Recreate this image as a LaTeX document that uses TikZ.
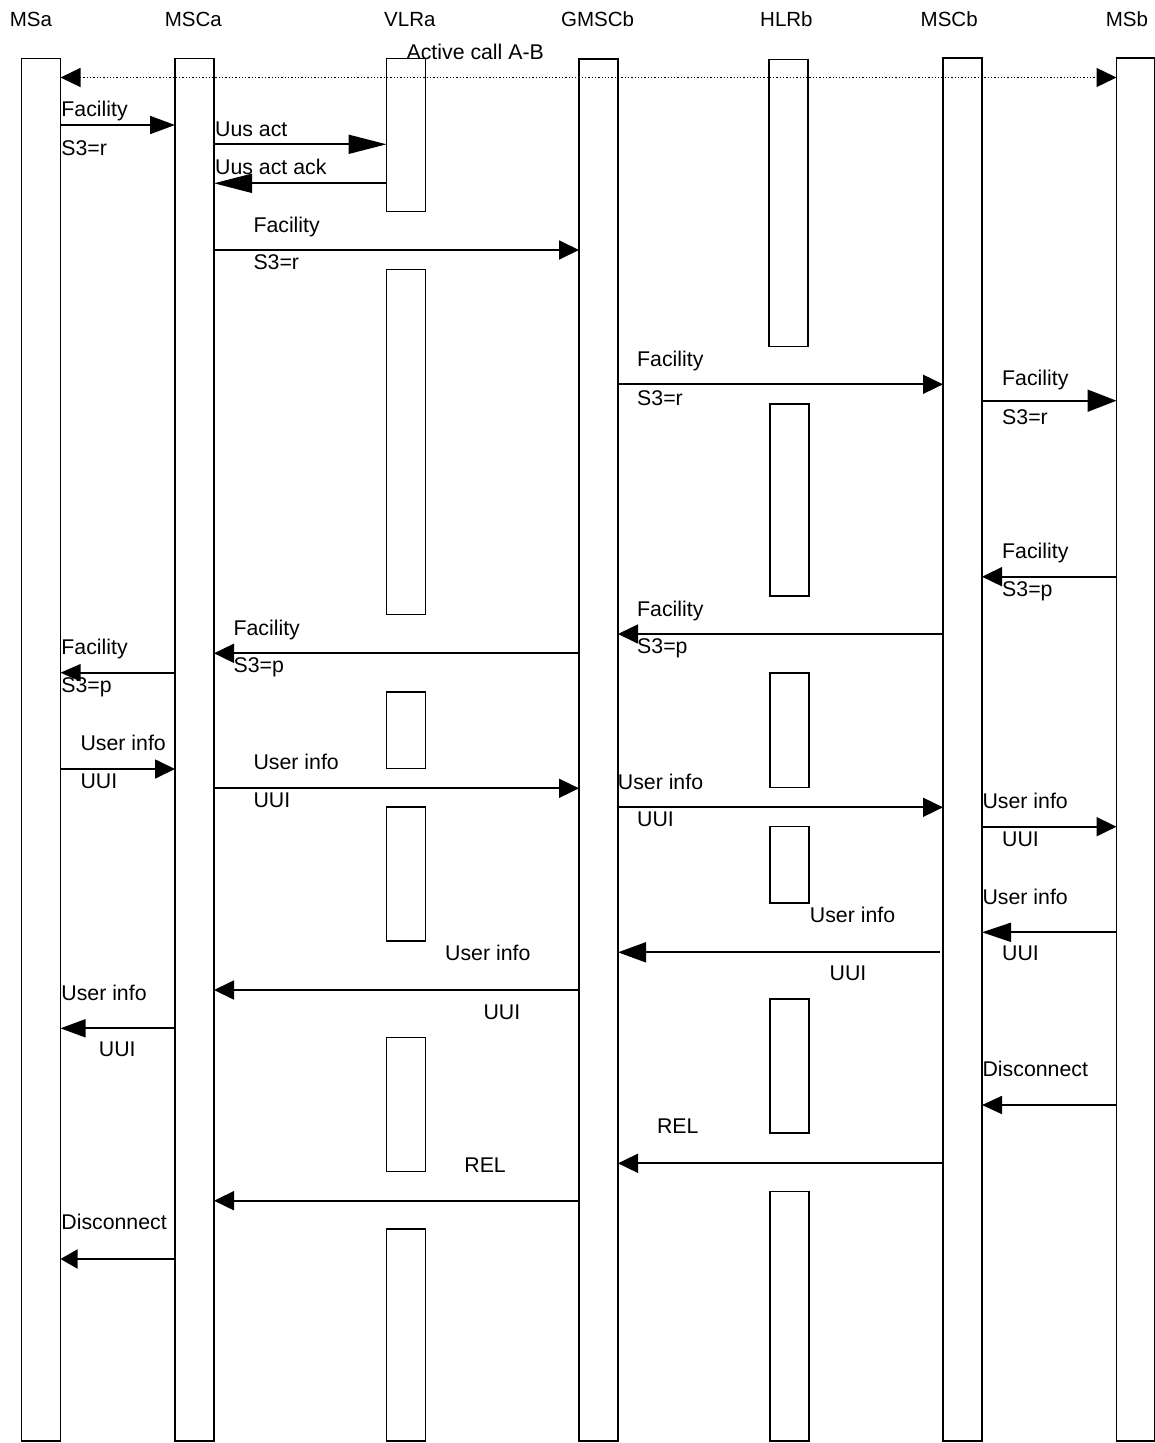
\documentclass[tikz,border=0pt]{standalone}
\usepackage{fontspec}
\setmainfont{Liberation Sans}
\usetikzlibrary{arrows.meta}
\begin{document}
\begin{tikzpicture}[x=1pt,y=-1pt,
  font=\fontsize{21.3}{25}\selectfont,
  lifebox/.style={draw, line width=1.8pt, minimum width=39pt, inner sep=0pt, outer sep=0pt},
  msg/.style={line width=1.8pt, -{Triangle[length=20pt,width=19pt]}},
  lbl/.style={anchor=base west, inner sep=0pt},
  hdr/.style={anchor=base west, inner sep=0pt, font=\fontsize{20.5}{24}\selectfont}]
\useasboundingbox (0,0) rectangle (1155,1443);
% headers
\node[hdr] (hMSa) at (9.6,26) {MSa};
\node[hdr] (hMSCa) at (164.6,26) {MSCa};
\node[hdr] (hVLRa) at (384,26) {VLRa};
\node[hdr] (hGMSCb) at (561,26) {GMSCb};
\node[hdr] (hHLRb) at (760,26) {HLRb};
\node[hdr] (hMSCb) at (920.5,26) {MSCb};
\node[hdr] (hMSb) at (1105.7,26) {MSb};
% lifelines
\node[lifebox, minimum height=1382.5pt] (MSa) at (41,749.75) {};
\node[lifebox, minimum height=1382.5pt] (MSCa) at (194.5,749.75) {};
\node[lifebox, minimum height=1382pt] (GMSCb) at (598.5,750) {};
\node[lifebox, minimum height=1383pt] (MSCb) at (962.5,749.5) {};
\node[lifebox, minimum height=1383pt, minimum width=38pt] (MSb) at (1135.5,749.5) {};
% VLRa segments
\node[lifebox, minimum height=153pt] (VLRa1) at (406,135) {};
\node[lifebox, minimum height=345pt] (VLRa2) at (406,442) {};
\node[lifebox, minimum height=76.5pt] (VLRa3) at (406,730.25) {};
\node[lifebox, minimum height=134pt] (VLRa4) at (406,874) {};
\node[lifebox, minimum height=134pt] (VLRa5) at (406,1104.5) {};
\node[lifebox, minimum height=212pt] (VLRa6) at (406,1335) {};
% HLRb segments
\node[lifebox, minimum height=287pt] (HLRb1) at (788.5,203) {};
\node[lifebox, minimum height=192pt] (HLRb2) at (789.5,500) {};
\node[lifebox, minimum height=114.5pt] (HLRb3) at (789.5,730.25) {};
\node[lifebox, minimum height=76.5pt] (HLRb4) at (789.5,864.75) {};
\node[lifebox, minimum height=134pt] (HLRb5) at (789.5,1066) {};
\node[lifebox, minimum height=249.5pt] (HLRb6) at (789.5,1316.25) {};

% active call
\draw[line width=1.3pt, dotted, {Triangle[length=20pt,width=19pt]}-{Triangle[length=20pt,width=19pt]}]
  (MSa.east |- 0,77.5) -- (MSb.west |- 0,77.5);
\node[lbl] (tAct) at (406.4,59.3) {Active call A-B};

% 1 Facility MSa -> MSCa
\draw[msg, -{Triangle[length=25pt,width=18pt]}] (MSa.east |- 0,125) -- (MSCa.west |- 0,125);
\node[lbl] (t1a) at (61.2,116.5) {Facility};
\node[lbl] (t1b) at (61.2,155) {S3=r};
% 2 Uus act
\draw[msg, -{Triangle[length=38pt,width=19pt]}] (MSCa.east |- 0,144.3) -- (VLRa1.west |- 0,144.3);
\node[lbl] (t2) at (215,136) {Uus act};
% 3 Uus act ack
\draw[msg, -{Triangle[length=38pt,width=19pt]}] (VLRa1.west |- 0,183.3) -- (MSCa.east |- 0,183.3);
\node[lbl] (t3) at (215,174) {Uus act ack};
% 4 Facility MSCa -> GMSCb
\draw[msg] (MSCa.east |- 0,250) -- (GMSCb.west |- 0,250);
\node[lbl] (t4a) at (253.3,232.3) {Facility};
\node[lbl] (t4b) at (253.3,269.3) {S3=r};
% 5 Facility GMSCb -> MSCb
\draw[msg] (GMSCb.east |- 0,384.3) -- (MSCb.west |- 0,384.3);
\node[lbl] (t5a) at (637,366) {Facility};
\node[lbl] (t5b) at (637,405) {S3=r};
% 6 Facility MSCb -> MSb
\draw[msg, -{Triangle[length=29pt,width=22pt]}] (MSCb.east |- 0,400.7) -- (MSb.west |- 0,400.7);
\node[lbl] (t6a) at (1002,385) {Facility};
\node[lbl] (t6b) at (1002,424) {S3=r};
% 7 Facility MSb -> MSCb
\draw[msg] (MSb.west |- 0,576.7) -- (MSCb.east |- 0,576.7);
\node[lbl] (t7a) at (1002,558.3) {Facility};
\node[lbl] (t7b) at (1002,596.7) {S3=p};
% 8 Facility MSCb -> GMSCb
\draw[msg] (MSCb.west |- 0,634) -- (GMSCb.east |- 0,634);
\node[lbl] (t8a) at (637,616) {Facility};
\node[lbl] (t8b) at (637,653) {S3=p};
% 9 Facility GMSCb -> MSCa
\draw[msg] (GMSCb.west |- 0,653.3) -- (MSCa.east |- 0,653.3);
\node[lbl] (t9a) at (233.4,635) {Facility};
\node[lbl] (t9b) at (233.4,672.7) {S3=p};
% 10 Facility MSCa -> MSa
\draw[msg, -{Triangle[length=20pt,width=17pt]}] (MSCa.west |- 0,672.7) -- (MSa.east |- 0,672.7);
\node[lbl] (t10a) at (61.2,654) {Facility};
\node[lbl] (t10b) at (61.2,692.7) {S3=p};
% 11 User info MSa -> MSCa
\draw[msg] (MSa.east |- 0,769) -- (MSCa.west |- 0,769);
\node[lbl] (t11a) at (80.4,750) {User info};
\node[lbl] (t11b) at (80.4,788.3) {UUI};
% 12 User info MSCa -> GMSCb
\draw[msg] (MSCa.east |- 0,788.3) -- (GMSCb.west |- 0,788.3);
\node[lbl] (t12a) at (253.4,769) {User info};
\node[lbl] (t12b) at (253.4,807.7) {UUI};
% 13 User info GMSCb -> MSCb
\draw[msg] (GMSCb.east |- 0,807.3) -- (MSCb.west |- 0,807.3);
\node[lbl] (t13a) at (617.7,789.3) {User info};
\node[lbl] (t13b) at (637,826.7) {UUI};
% 14 User info MSCb -> MSb
\draw[msg] (MSCb.east |- 0,826.7) -- (MSb.west |- 0,826.7);
\node[lbl] (t14a) at (982.4,808.3) {User info};
\node[lbl] (t14b) at (1002,846) {UUI};
% 15 User info MSb -> MSCb
\draw[msg, -{Triangle[length=29pt,width=19pt]}] (MSb.west |- 0,932.3) -- (MSCb.east |- 0,932.3);
\node[lbl] (t15a) at (982.4,904) {User info};
\node[lbl] (t15b) at (1002,960) {UUI};
% 16 User info MSCb -> GMSCb
\coordinate (m16s) at (940,952.3);
\draw[msg, -{Triangle[length=28pt,width=20pt]}] (m16s) -- (GMSCb.east |- m16s);
\node[lbl] (t16a) at (809.7,922.7) {User info};
\node[lbl] (t16b) at (829.5,980.7) {UUI};
% 17 User info GMSCb -> MSCa
\draw[msg] (GMSCb.west |- 0,990) -- (MSCa.east |- 0,990);
\node[lbl] (t17a) at (445,960.5) {User info};
\node[lbl] (t17b) at (483.3,1019) {UUI};
% 18 User info MSCa -> MSa
\draw[msg, -{Triangle[length=25pt,width=18pt]}] (MSCa.west |- 0,1028.3) -- (MSa.east |- 0,1028.3);
\node[lbl] (t18a) at (61.2,1000) {User info};
\node[lbl] (t18b) at (98.7,1056.7) {UUI};
% 19 Disconnect MSb -> MSCb
\draw[msg, -{Triangle[length=20pt,width=18pt]}] (MSb.west |- 0,1105) -- (MSCb.east |- 0,1105);
\node[lbl] (t19) at (982.4,1076.7) {Disconnect};
% 20 REL MSCb -> GMSCb
\draw[msg] (MSCb.west |- 0,1163.3) -- (GMSCb.east |- 0,1163.3);
\node[lbl] (t20) at (656.8,1133.3) {REL};
% 21 REL GMSCb -> MSCa
\draw[msg] (GMSCb.west |- 0,1200.7) -- (MSCa.east |- 0,1200.7);
\node[lbl] (t21) at (464.2,1172.3) {REL};
% 22 Disconnect MSCa -> MSa
\draw[msg, -{Triangle[length=17pt,width=19pt]}] (MSCa.west |- 0,1259) -- (MSa.east |- 0,1259);
\node[lbl] (t22) at (61.2,1229.3) {Disconnect};
\end{tikzpicture}
\end{document}
